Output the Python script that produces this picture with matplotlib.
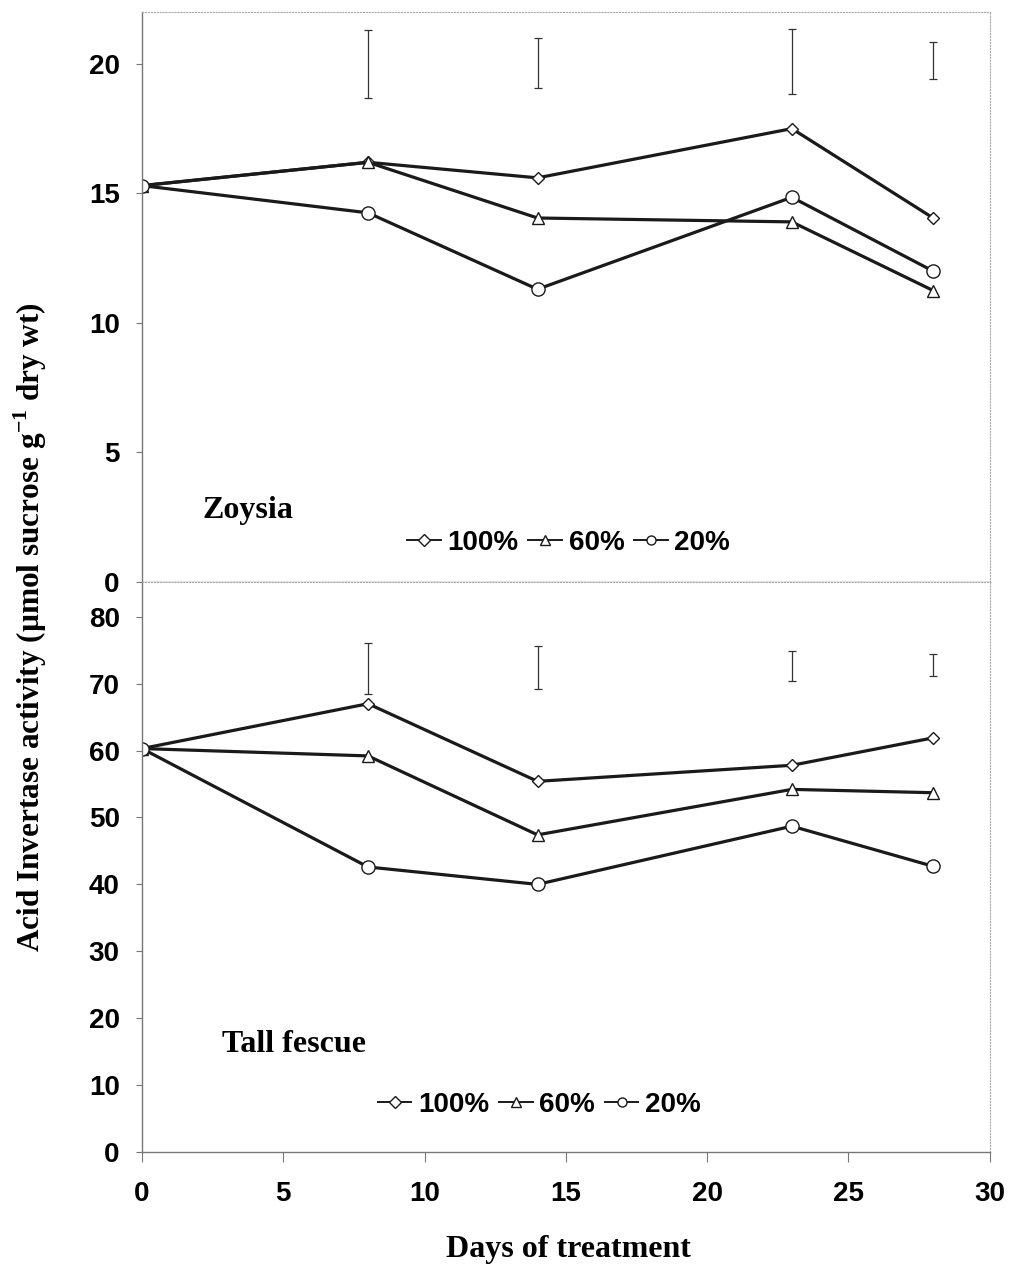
import numpy as np
import matplotlib
matplotlib.use('Agg')
import matplotlib.pyplot as plt

# dati
days = [0, 8, 14, 23, 28]
err_days = [8, 14, 23, 28]

zoy_100 = [15.3, 16.2, 15.6, 17.5, 14.05]
zoy_60 = [15.3, 16.2, 14.05, 13.9, 11.25]
zoy_20 = [15.3, 14.25, 11.3, 14.85, 12.0]
zoy_err_lo = [18.7, 19.05, 18.85, 19.4]
zoy_err_hi = [21.3, 21.0, 21.35, 20.85]

tf_100 = [60.3, 67.0, 55.4, 57.8, 61.9]
tf_60 = [60.3, 59.2, 47.4, 54.2, 53.7]
tf_20 = [60.3, 42.6, 40.0, 48.7, 42.7]
tf_err_lo = [68.5, 69.2, 70.4, 71.1]
tf_err_hi = [76.1, 75.6, 74.9, 74.4]

labels = ['100%', '60%', '20%']
markers = ['D', '^', 'o']
msizes = [7.5, 9, 9.5]

sans = 'Liberation Sans'
serif = 'Liberation Serif'

plt.rcParams['mathtext.fontset'] = 'custom'
plt.rcParams['mathtext.rm'] = 'Liberation Serif'
plt.rcParams['mathtext.bf'] = 'Liberation Serif:bold'

fig = plt.figure(figsize=(10.14, 12.69), dpi=100)
ax1 = fig.add_axes([0.140, 0.5414, 0.836, 0.4491])
ax2 = fig.add_axes([0.140, 0.0922, 0.836, 0.4492])

def pannello(ax, serie, lo, hi, ylim, yticks, nome, nome_pos, leg_pos):
    for y, m, ms, lab in zip(serie, markers, msizes, labels):
        if m == 'D':
            ms2 = ms * 0.85
        else:
            ms2 = ms
        ax.plot(days, y, color='#1a1a1a', lw=2.3, marker=m, ms=ms2,
                mfc='white', mec='#1a1a1a', mew=1.0, label=lab)
    lo = np.array(lo)
    hi = np.array(hi)
    ax.errorbar(err_days, (lo + hi) / 2, yerr=(hi - lo) / 2, fmt='none',
                ecolor='#333333', elinewidth=0.9, capsize=3, capthick=0.9)
    ax.set_xlim(0, 30)
    ax.set_ylim(*ylim)
    ax.set_yticks(yticks)
    ax.set_yticklabels([str(t) for t in yticks], fontfamily=sans,
                       fontweight='bold', fontsize=20)
    ax.tick_params(axis='y', direction='out', length=4, pad=12,
                   color='#777777', width=0.8)
    for s in ['left', 'bottom']:
        ax.spines[s].set_color('#777777')
        ax.spines[s].set_linewidth(1.0)
    for s in ['top', 'right']:
        ax.spines[s].set_color('#aaaaaa')
        ax.spines[s].set_linewidth(0.8)
        ax.spines[s].set_linestyle(':')
    ax.text(nome_pos[0], nome_pos[1], nome, transform=ax.transAxes,
            fontfamily=serif, fontweight='bold', fontsize=23, va='center')
    leg = ax.legend(loc='center', bbox_to_anchor=leg_pos, ncol=3,
                    frameon=False, handlelength=1.2, handletextpad=0.25,
                    columnspacing=0.35, borderpad=0.1,
                    prop={'family': sans, 'weight': 'bold', 'size': 20})
    for h in leg.legend_handles:
        h.set_linewidth(1.4)
        h.set_markersize(6.5)

pannello(ax1, [zoy_100, zoy_60, zoy_20], zoy_err_lo, zoy_err_hi,
         (0, 22.0), [0, 5, 10, 15, 20], 'Zoysia', (0.072, 0.126), (0.5035, 0.068))
pannello(ax2, [tf_100, tf_60, tf_20], tf_err_lo, tf_err_hi,
         (0, 85.2), [0, 10, 20, 30, 40, 50, 60, 70, 80], 'Tall fescue',
         (0.094, 0.189), (0.469, 0.0825))

ax1.set_xticks([])
ax2.set_xticks([0, 5, 10, 15, 20, 25, 30])
ax2.set_xticklabels(['0', '5', '10', '15', '20', '25', '30'], fontfamily=sans,
                    fontweight='bold', fontsize=20)
ax2.tick_params(axis='x', direction='out', length=7, pad=14,
                color='#777777', width=0.8)

fig.text(0.5605, 0.0155, 'Days of treatment', ha='center', va='center',
         fontfamily=serif, fontweight='bold', fontsize=23)
fig.text(0.030, 0.506, 'Acid Invertase activity (\u00b5mol sucrose g$^{\\mathbf{-1}}$ dry wt)',
         rotation=90, ha='center', va='center', fontfamily=serif,
         fontweight='bold', fontsize=22.5)

fig.savefig('out.png', dpi=100)
